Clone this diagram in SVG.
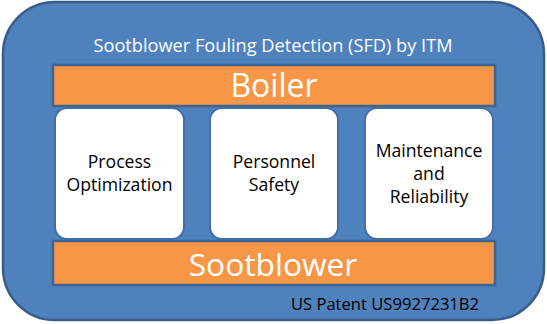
<svg xmlns="http://www.w3.org/2000/svg" width="547" height="324" viewBox="0 0 547 324">
<style>
.bar{fill:#F79646;stroke:#3E6592;stroke-width:2.5}
.card{fill:#FFFFFF;stroke:#416FA8;stroke-width:2}
.t{font-family:"Open Sans","Noto Sans",sans-serif;text-anchor:middle}
.w{fill:#FFFFFF}
.k{fill:#000000;font-size:17.6px}
</style>
<rect width="547" height="324" fill="#FFFFFF"/>
<g id="frame">
<rect x="3" y="2" width="541" height="318" rx="52" ry="52" fill="#4F81BD" stroke="#385D8A" stroke-width="2.5"/>
<text class="t w" x="273" y="52" font-size="18.2">Sootblower Fouling Detection (SFD) by ITM</text>
</g>
<g id="boiler">
<rect class="bar" x="53" y="65" width="442" height="41"/>
<text class="t w" x="274" y="97" font-size="32">Boiler</text>
</g>
<g id="process">
<rect class="card" x="55" y="108" width="129" height="131" rx="12" ry="12"/>
<text class="t k" x="119.5" y="168">Process</text>
<text class="t k" x="119.5" y="191">Optimization</text>
</g>
<g id="safety">
<rect class="card" x="210" y="108" width="128" height="131" rx="12" ry="12"/>
<text class="t k" x="274" y="168">Personnel</text>
<text class="t k" x="274" y="191">Safety</text>
</g>
<g id="maintenance">
<rect class="card" x="365" y="108" width="128" height="131" rx="12" ry="12"/>
<text class="t k" x="429" y="157">Maintenance</text>
<text class="t k" x="429" y="180">and</text>
<text class="t k" x="429" y="203">Reliability</text>
</g>
<g id="sootblower">
<rect class="bar" x="53" y="241" width="442" height="44"/>
<text class="t w" x="273" y="276" font-size="31.7">Sootblower</text>
</g>
<g id="patent">
<text class="t k" x="385" y="310" style="font-size:16.6px">US Patent US9927231B2</text>
</g>
<g id="connectors"/>
</svg>
